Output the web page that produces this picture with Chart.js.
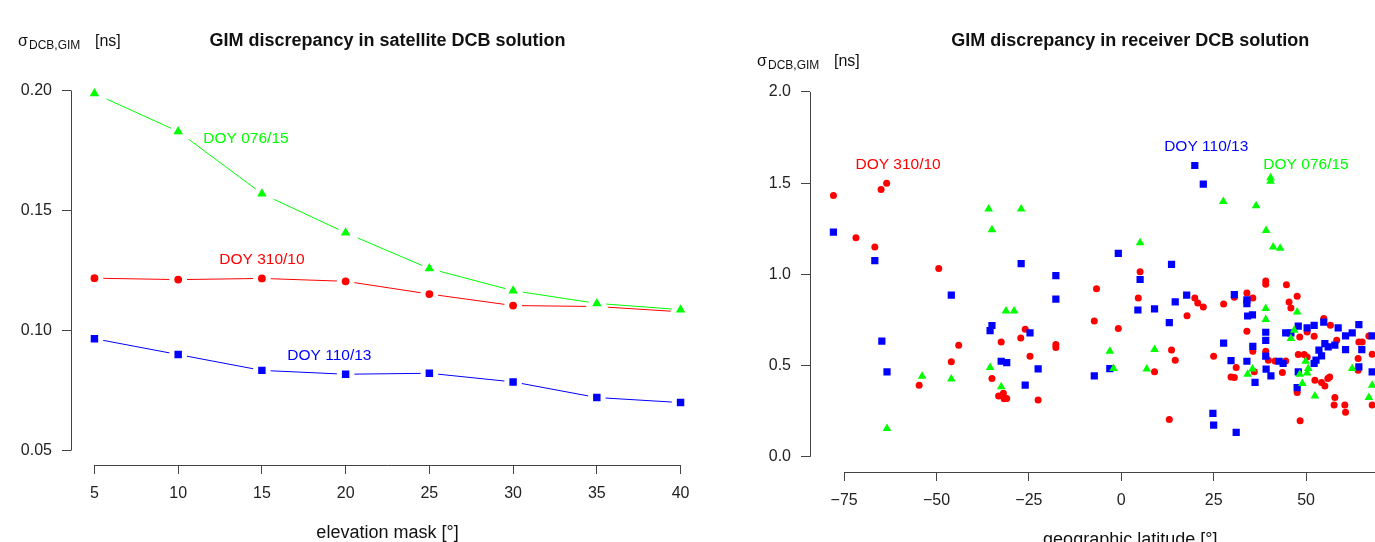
<!DOCTYPE html>
<html>
<head>
<meta charset="utf-8">
<script src="https://cdn.jsdelivr.net/npm/chart.js@4.4.1/dist/chart.umd.min.js"></script>
<style>
  html, body { margin: 0; padding: 0; background: #fff; overflow: hidden; width: 1375px; height: 542px; }
  canvas { position: absolute; top: 0; }
  #satChart { left: 0; }
  #recChart { left: 730px; }
</style>
</head>
<body>
<canvas id="satChart" width="720" height="542"></canvas>
<canvas id="recChart" width="760" height="542"></canvas>
<script>
// satellite DCB: sigma vs elevation mask
var elevMask = [5, 10, 15, 20, 25, 30, 35, 40];
var satDoy076 = [0.1987, 0.1829, 0.1570, 0.1407, 0.1258, 0.1166, 0.1113, 0.1087];
var satDoy310 = [0.1218, 0.1212, 0.1217, 0.1205, 0.1152, 0.1104, 0.1100, 0.1078];
var satDoy110 = [0.0966, 0.0900, 0.0834, 0.0818, 0.0822, 0.0786, 0.0721, 0.0700];

// receiver DCB: sigma vs geographic latitude
var recLat076 = [-63.4, -53.9, -46.0, -35.9, -35.0, -35.5, -32.5, -31.2, -29.0, -27.1, 5.1, 27.6, 36.5, 40.4, 40.4, 39.2, 41.1, 43.0, -3.1, -2.1, 9.0, 6.9, 39.1, 39.1, 47.6, 46.8, 45.9, 35.5, 34.2, 49.9, 50.6, 48.3, 50.3, 49.0, 52.4, 62.5, 67.9, 67.0];
var recSig076 = [0.156, 0.442, 0.427, 1.358, 1.245, 0.490, 0.384, 0.800, 0.800, 1.358, 1.174, 1.400, 1.377, 1.530, 1.511, 1.241, 1.150, 1.143, 0.579, 0.484, 0.588, 0.481, 0.813, 0.753, 0.794, 0.694, 0.649, 0.482, 0.453, 0.524, 0.484, 0.453, 0.460, 0.402, 0.334, 0.484, 0.393, 0.326];

var recLat110 = [-77.9, -66.7, -64.8, -63.4, -46.0, -35.5, -35.0, -32.5, -31.0, -27.1, -26.0, -24.7, -22.5, -17.7, -17.7, 19.9, 22.2, -0.8, 13.6, 5.1, 4.5, 9.0, 14.6, 17.7, 13.0, -7.3, -3.1, 27.7, 29.7, 30.6, 34.0, 34.0, 34.2, 35.5, 34.0, 36.2, 35.6, 39.1, 39.1, 39.1, 39.2, 40.5, 42.7, 43.8, 44.5, 45.9, 47.9, 50.3, 52.2, 54.8, 58.7, 60.7, 62.5, 64.3, 67.9, 55.1, 56.0, 57.8, 53.5, 54.2, 52.7, 52.2, 60.7, 65.1, 64.3, 67.9, 47.9, 47.6, 24.8, 25.0, 31.1];
var recSig110 = [1.232, 1.076, 0.634, 0.466, 0.887, 0.692, 0.720, 0.524, 0.517, 1.059, 0.393, 0.679, 0.482, 0.993, 0.865, 1.597, 1.495, 1.115, 1.055, 0.972, 0.805, 0.811, 0.849, 0.887, 0.736, 0.444, 0.484, 0.623, 0.528, 0.889, 0.860, 0.840, 0.772, 0.778, 0.524, 0.408, 0.605, 0.683, 0.639, 0.552, 0.481, 0.444, 0.524, 0.512, 0.679, 0.679, 0.716, 0.707, 0.721, 0.739, 0.707, 0.663, 0.679, 0.725, 0.663, 0.621, 0.603, 0.612, 0.585, 0.553, 0.530, 0.512, 0.588, 0.588, 0.493, 0.466, 0.466, 0.380, 0.238, 0.174, 0.134];

var recLat310 = [-77.9, -71.8, -66.7, -65.0, -63.5, -49.4, -54.7, -46.0, -44.0, -35.0, -32.5, -33.2, -31.9, -31.7, -31.0, -27.2, -26.0, -24.7, -22.5, -17.7, -17.7, -6.7, -7.3, -0.8, 5.1, 4.6, 17.8, 19.9, 20.7, 22.2, 27.7, 30.6, 34.0, 35.6, 13.6, 14.6, 9.0, 13.0, 25.0, 31.1, 29.7, 30.6, 34.0, 35.6, 36.0, 39.1, 39.1, 39.1, 39.8, 41.6, 44.5, 43.6, 44.7, 47.6, 45.4, 45.9, 48.3, 50.3, 52.2, 47.9, 49.5, 50.3, 47.6, 48.4, 52.4, 54.2, 55.1, 56.4, 55.9, 54.8, 56.6, 57.8, 57.6, 60.5, 60.7, 64.1, 64.3, 65.2, 67.0, 67.9, 67.9, 58.3, 64.1];
var recSig310 = [1.433, 1.201, 1.150, 1.466, 1.499, 1.033, 0.393, 0.521, 0.612, 0.430, 0.630, 0.333, 0.348, 0.318, 0.320, 0.652, 0.700, 0.552, 0.311, 0.616, 0.599, 0.922, 0.745, 0.703, 1.015, 0.871, 0.774, 0.871, 0.843, 0.822, 0.838, 0.875, 0.898, 0.871, 0.585, 0.530, 0.466, 0.205, 0.552, 0.490, 0.438, 0.435, 0.689, 0.579, 0.466, 0.964, 0.946, 0.579, 0.530, 0.526, 0.526, 0.462, 0.944, 0.880, 0.849, 0.816, 0.657, 0.685, 0.661, 0.561, 0.561, 0.548, 0.353, 0.198, 0.420, 0.408, 0.389, 0.438, 0.430, 0.758, 0.721, 0.326, 0.284, 0.284, 0.244, 0.539, 0.630, 0.630, 0.663, 0.284, 0.563, 0.639, 0.475];

// tick labels
var satXTicks = [5, 10, 15, 20, 25, 30, 35, 40];
var satYTicks = [0.05, 0.10, 0.15, 0.20];
var recXTicks = [-75, -50, -25, 0, 25, 50, 75];
var recYTicks = [0, 0.5, 1.0, 1.5, 2.0];

var GREEN = '#00ff00', RED = '#ff0000', BLUE = '#0000ff';
var FONT = "'Liberation Sans', Arial, sans-serif";

function pairs(xs, ys) {
  return xs.map(function (x, i) { return { x: x, y: ys[i] }; });
}

function axis(min, max, ticks, fmt, size, horizontal) {
  return {
    type: 'linear', min: min, max: max,
    afterBuildTicks: function (s) { s.ticks = ticks.map(function (v) { return { value: v }; }); },
    afterFit: function (s) { if (horizontal) s.height = size; else s.width = size; },
    grid: { drawOnChartArea: false, drawTicks: true, tickLength: 9, color: '#444', lineWidth: 1 },
    border: { display: false },
    ticks: { padding: 10, color: '#222', autoSkip: false, maxRotation: 0, font: { family: FONT, size: 16 }, callback: fmt }
  };
}

function minus(v) { return v < 0 ? '\u2212' + Math.abs(v) : String(v); }

// R-like axes (line only from first to last tick) plus titles and series labels
var rStyle = {
  id: 'rStyle',
  afterDraw: function (chart, args, o) {
    var ctx = chart.ctx, a = chart.chartArea, sx = chart.scales.x, sy = chart.scales.y;
    var al = function (p) { return Math.round(p - 0.5) + 0.5; };
    ctx.save();
    ctx.strokeStyle = '#444';
    ctx.lineWidth = 1;
    ctx.beginPath();
    var yb = al(a.bottom), xl = al(a.left);
    ctx.moveTo(sx.getPixelForValue(sx.ticks[0].value), yb);
    ctx.lineTo(sx.getPixelForValue(sx.ticks[sx.ticks.length - 1].value), yb);
    ctx.moveTo(xl, sy.getPixelForValue(sy.ticks[0].value));
    ctx.lineTo(xl, sy.getPixelForValue(sy.ticks[sy.ticks.length - 1].value));
    ctx.stroke();

    ctx.fillStyle = '#111';
    ctx.textBaseline = 'alphabetic';
    ctx.textAlign = 'center';
    ctx.font = 'bold 18px ' + FONT;
    ctx.fillText(o.title, (a.left + a.right) / 2, 46);
    ctx.font = '18px ' + FONT;
    ctx.fillText(o.xTitle, (a.left + a.right) / 2, a.bottom + 73);

    // sigma_DCB,GIM [ns]
    ctx.textAlign = 'left';
    var x0 = a.left - 53;
    ctx.font = '16px ' + FONT;
    ctx.fillText('\u03c3', x0, o.yLabelBase);
    ctx.font = '12px ' + FONT;
    ctx.fillText('DCB,GIM', x0 + 11, o.yLabelBase + 3);
    ctx.font = '16px ' + FONT;
    ctx.fillText('[ns]', x0 + 77, o.yLabelBase);

    ctx.textAlign = 'center';
    ctx.textBaseline = 'middle';
    ctx.font = '15.5px ' + FONT;
    o.labels.forEach(function (l) {
      ctx.fillStyle = l.color;
      ctx.fillText(l.text, sx.getPixelForValue(l.x), sy.getPixelForValue(l.y));
    });
    ctx.restore();
  }
};

Chart.defaults.font.family = FONT;

new Chart(document.getElementById('satChart'), {
  type: 'line',
  data: {
    datasets: [
      { data: pairs(elevMask, satDoy076), borderColor: GREEN, backgroundColor: GREEN, pointStyle: 'triangle', pointRadius: 10.5, pointBorderColor: '#fff', pointBorderWidth: 5, borderWidth: 1 },
      { data: pairs(elevMask, satDoy110), borderColor: BLUE, backgroundColor: BLUE, pointStyle: 'rect', pointRadius: 8.8, pointBorderColor: '#fff', pointBorderWidth: 5, borderWidth: 1 },
      { data: pairs(elevMask, satDoy310), borderColor: RED, backgroundColor: RED, pointStyle: 'circle', pointRadius: 6.4, pointBorderColor: '#fff', pointBorderWidth: 5, borderWidth: 1 }
    ]
  },
  options: {
    responsive: false,
    animation: false,
    layout: { padding: { top: 76, right: 16, left: 0, bottom: 0 } },
    scales: {
      x: axis(3.6, 41.4, satXTicks, function (v) { return String(v); }, 77, true),
      y: axis(0.044, 0.206, satYTicks, function (v) { return v.toFixed(2); }, 71, false)
    },
    plugins: {
      legend: { display: false },
      tooltip: { enabled: false },
      rStyle: {
        title: 'GIM discrepancy in satellite DCB solution',
        xTitle: 'elevation mask [\u00b0]',
        yLabelBase: 46,
        labels: [
          { text: 'DOY 076/15', color: GREEN, x: 14.05, y: 0.1798 },
          { text: 'DOY 310/10', color: RED, x: 15.0, y: 0.1296 },
          { text: 'DOY 110/13', color: BLUE, x: 19.03, y: 0.0897 }
        ]
      }
    }
  },
  plugins: [rStyle]
});

new Chart(document.getElementById('recChart'), {
  type: 'scatter',
  data: {
    datasets: [
      { data: pairs(recLat076, recSig076), backgroundColor: GREEN, pointStyle: 'triangle', pointRadius: 5.0, pointBorderWidth: 0 },
      { data: pairs(recLat110, recSig110), backgroundColor: BLUE, pointStyle: 'rect', pointRadius: 5.1, pointBorderWidth: 0 },
      { data: pairs(recLat310, recSig310), backgroundColor: RED, pointStyle: 'circle', pointRadius: 3.5, pointBorderWidth: 0 }
    ]
  },
  options: {
    responsive: false,
    animation: false,
    layout: { padding: { top: 77, right: 39.5, left: 0, bottom: 0 } },
    scales: {
      x: axis(-84.24, 89.1, recXTicks, minus, 70, true),
      y: axis(-0.083, 2.082, recYTicks, function (v) { return v.toFixed(1); }, 80, false)
    },
    plugins: {
      legend: { display: false },
      tooltip: { enabled: false },
      rStyle: {
        title: 'GIM discrepancy in receiver DCB solution',
        xTitle: 'geographic latitude [\u00b0]',
        yLabelBase: 66,
        labels: [
          { text: 'DOY 310/10', color: RED, x: -60.4, y: 1.60 },
          { text: 'DOY 110/13', color: BLUE, x: 23.0, y: 1.70 },
          { text: 'DOY 076/15', color: GREEN, x: 50.0, y: 1.60 }
        ]
      }
    }
  },
  plugins: [rStyle]
});
</script>
</body>
</html>
